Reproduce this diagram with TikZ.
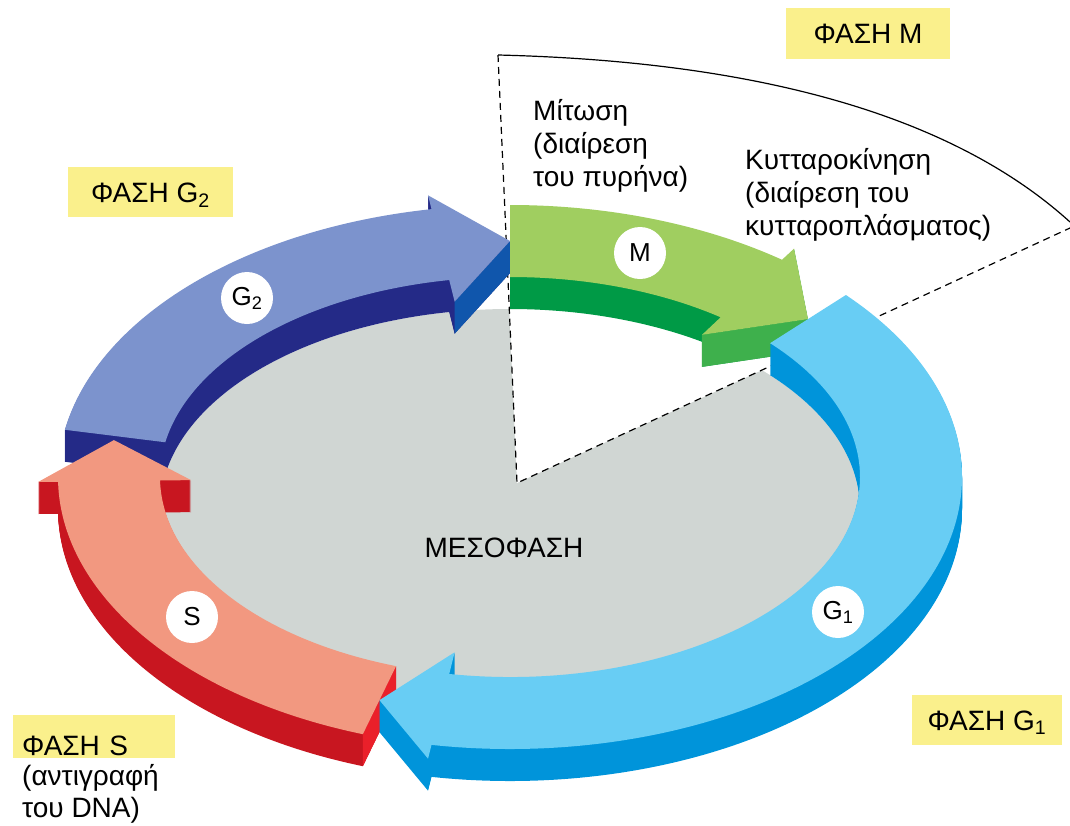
\documentclass[tikz,border=0pt]{standalone}
\usepackage{fontspec}
\setmainfont{Liberation Sans}
\usetikzlibrary{positioning}
\definecolor{PhaseYellow}{RGB}{250,240,140}
\definecolor{FloorGray}{RGB}{208,214,211}
\definecolor{GtwoTop}{RGB}{124,147,205}
\definecolor{GtwoSide}{RGB}{36,42,135}
\definecolor{GtwoHead}{RGB}{16,86,172}
\definecolor{MTop}{RGB}{160,206,96}
\definecolor{MSide}{RGB}{0,154,70}
\definecolor{MHead}{RGB}{62,176,76}
\definecolor{GoneTop}{RGB}{104,205,244}
\definecolor{GoneSide}{RGB}{0,148,218}
\definecolor{STop}{RGB}{242,152,128}
\definecolor{SSide}{RGB}{200,22,32}
\definecolor{STail}{RGB}{234,32,42}
% one band of the ring: tail angle, barb angle, tip angle
\newcommand{\ringarrow}[3]{%
  (#1:452 and 272) arc[start angle=#1,end angle=#2,x radius=452,y radius=272]
  -- (#2:472 and 286) -- (#3:401 and 236) -- (#2:319 and 178)
  -- (#2:350 and 200) arc[start angle=#2,end angle=#1,x radius=350,y radius=200] -- cycle}
\newcommand{\ringside}[4]{%
  \foreach \k in {1,...,32}{\fill[#1,yshift=-\k pt] \ringarrow{#2}{#3}{#4};}}
\tikzset{
  phase/.style={fill=PhaseYellow,inner sep=0pt,font=\fontsize{28}{33}\selectfont,
    text height=20pt,text depth=0pt},
  note/.style={font=\fontsize{28}{33}\selectfont,align=left,inner sep=0pt},
  tag/.style={font=\fontsize{28}{33}\selectfont,inner sep=0pt,text height=20pt,text depth=0pt},
  badge/.style={circle,fill=white,minimum size=52pt,inner sep=0pt,font=\fontsize{26}{30}\selectfont},
  guide/.style={draw=black,line width=1.2pt,dash pattern=on 7pt off 5pt},
  rim/.style={draw=black,line width=1.2pt},
}

\begin{document}
\begin{tikzpicture}[x=1pt,y=-1pt]
\useasboundingbox (0,0) rectangle (1070,825);
\coordinate (apex) at (517,483);
\coordinate (top) at (498,55);
\coordinate (edge) at (1070,228);
% floor and the M sector
\fill[FloorGray] (510,509) ellipse [x radius=350,y radius=200];
\fill[white] (apex) -- (top) .. controls (700,60) and (930,95) .. (1070,222) -- (edge) -- cycle;
\draw[guide] (top) -- (apex) -- (edge);
\draw[rim] (top) .. controls (700,60) and (930,95) .. (1070,222);

\begin{scope}[shift={(510,477)}]
% G2
\ringside{GtwoSide}{190}{260}{270}
\coordinate (g2tip) at (270:401 and 236);
\coordinate (g2in) at (260:319 and 178);
\fill[GtwoHead] (g2tip) -- (g2in) -- ([yshift=-32pt]g2in) -- ([yshift=-32pt]g2tip) -- cycle;
\fill[GtwoTop] \ringarrow{190}{260}{270};
% M
\ringside{MSide}{270}{307}{318}
\coordinate (mtip) at (318:401 and 236);
\coordinate (min) at (307:319 and 178);
\fill[MHead] (mtip) -- (min) -- ([yshift=-32pt]min) -- ([yshift=-32pt]mtip) -- cycle;
\fill[MTop] \ringarrow{270}{307}{318};
% S
\ringside{SSide}{109}{179}{189}
\coordinate (sti) at (109:350 and 200);
\coordinate (sto) at (109:452 and 272);
\fill[STail] (sti) -- (sto) -- ([yshift=-32pt]sto) -- ([yshift=-32pt]sti) -- cycle;
\fill[STop] \ringarrow{109}{179}{189};
% G1
\ringside{GoneSide}{318}{460}{469}
\fill[GoneTop] \ringarrow{318}{460}{469};
\end{scope}

\node[badge] (bG2) at (247,298) {G\textsubscript{2}};
\node[badge] (bM) at (640,253) {M};
\node[badge] (bS) at (192,617) {S};
\node[badge] (bG1) at (838,612) {G\textsubscript{1}};

\node[tag] (inter) at (504,547.5) {ΜΕΣΟΦΑΣΗ};
\node[phase,minimum width=164pt,minimum height=51pt] (phM) at (868,33.5) {ΦΑΣΗ M};
\node[phase,minimum width=165pt,minimum height=50pt] (phG2) at (150.5,192) {ΦΑΣΗ G\textsubscript{2}};
\node[phase,minimum width=150pt,minimum height=50pt] (phG1) at (987,720) {ΦΑΣΗ G\textsubscript{1}};
\node[phase,anchor=base west,text width=144pt,align=left,inner xsep=9pt,
  text height=40pt,text depth=3pt] (phS) at (13,755) {ΦΑΣΗ S};
\node[note,font=\fontsize{28}{32}\selectfont,anchor=north west] (sdna) at (22,764) {(αντιγραφή\\του DNA)};
\node[note,anchor=north west] (mito) at (533,99) {Μίτωση\\(διαίρεση\\του πυρήνα)};
\node[note,anchor=north west] (cyto) at (745,148) {Κυτταροκίνηση\\(διαίρεση του\\κυτταροπλάσματος)};
\end{tikzpicture}
\end{document}
